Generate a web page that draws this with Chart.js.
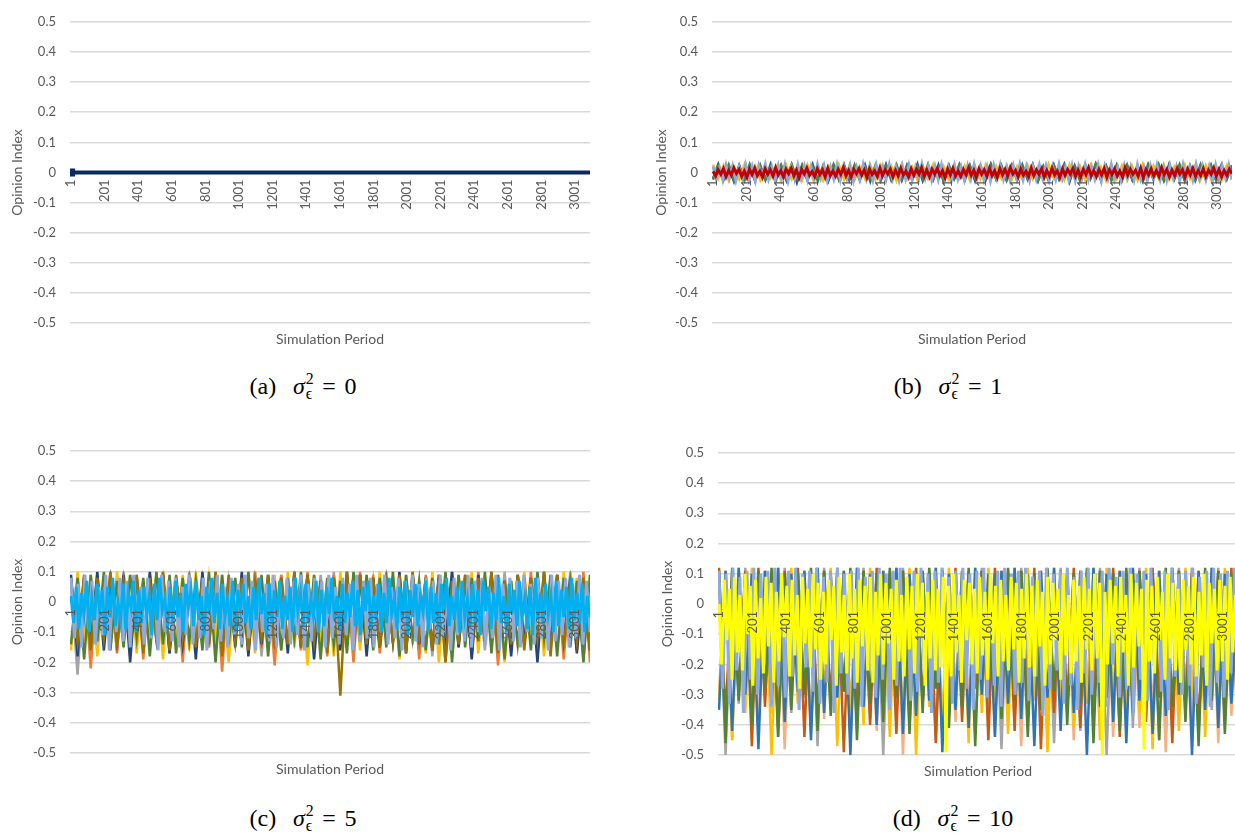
<!DOCTYPE html>
<html><head><meta charset="utf-8">
<script src="https://cdn.jsdelivr.net/npm/chart.js@4"></script>
<style>
html,body{margin:0;padding:0;background:#fff;width:1235px;height:835px;overflow:hidden;position:relative;}
.panel{position:absolute;}
.cap{position:absolute;width:300px;text-align:center;font-family:"Liberation Serif","DejaVu Serif",serif;font-size:24px;line-height:28px;color:#000;white-space:nowrap;}
.ss{display:inline-block;vertical-align:-0.32em;line-height:0.95;font-size:0.66em;text-align:left;margin-left:1px;}
.ss span{display:block;}
.gap{display:inline-block;width:0.7em;}
.eq{margin:0 0.36em;}
</style></head><body>
<div class="panel" style="left:0;top:0;width:600px;height:350px"><canvas id="ca"></canvas></div>
<div class="panel" style="left:644px;top:0;width:598px;height:350px"><canvas id="cb"></canvas></div>
<div class="panel" style="left:0;top:429px;width:600px;height:351px"><canvas id="cc"></canvas></div>
<div class="panel" style="left:650px;top:431px;width:598px;height:351px"><canvas id="cd"></canvas></div>
<div class="cap" style="left:153px;top:371px">(a)<span class="gap"></span><i>σ</i><span class="ss"><span>2</span><span>ϵ</span></span><span class="eq">=</span>0</div>
<div class="cap" style="left:798px;top:371px">(b)<span class="gap"></span><i>σ</i><span class="ss"><span>2</span><span>ϵ</span></span><span class="eq">=</span>1</div>
<div class="cap" style="left:153px;top:803px">(c)<span class="gap"></span><i>σ</i><span class="ss"><span>2</span><span>ϵ</span></span><span class="eq">=</span>5</div>
<div class="cap" style="left:803px;top:803px">(d)<span class="gap"></span><i>σ</i><span class="ss"><span>2</span><span>ϵ</span></span><span class="eq">=</span>10</div>
<script>
// ---- tick labels ----
const xTickLabels = [1,201,401,601,801,1001,1201,1401,1601,1801,2001,2201,2401,2601,2801,3001];
const yTickValues = [-0.5,-0.4,-0.3,-0.2,-0.1,0,0.1,0.2,0.3,0.4,0.5];
const yTitle = 'Opinion Index';
const xTitle = 'Simulation Period';
const lastPeriod = 3090;

// ---- (a) sigma^2 = 0 : every opinion stays at 0 ----
const aPeriods = [1, 3090];
const aOpinion = [0, 0];

// ---- (b) sigma^2 = 1 ----
const bDarkBlue = [-0.02,0.027,-0.025,0.021,-0.03,0.024,-0.022,0.026,-0.027,0.02,-0.024,0.028,-0.021,0.023,-0.026,0.025,-0.033,0.022,-0.023,0.027,
-0.025,0.019,-0.028,0.024,-0.02,0.026,-0.026,0.021,-0.024,0.025,-0.029,0.023,-0.021,0.027,-0.025,0.02,-0.026,0.024,-0.022,0.028,
-0.027,0.021,-0.023,0.025,-0.03,0.022,-0.02,0.026,-0.025,0.023,-0.028,0.02,-0.024,0.027,-0.021,0.024,-0.026,0.022,-0.023,0.025,
-0.022,0.026,-0.028,0.02,-0.025,0.024,-0.021,0.027,-0.031,0.022,-0.024,0.025,-0.02,0.028,-0.026,0.021,-0.023,0.024,-0.027,0.022,
-0.025,0.02,-0.029,0.026,-0.022,0.023,-0.026,0.027,-0.021,0.024,-0.028,0.021,-0.024,0.026,-0.023,0.02,-0.027,0.025,-0.022,0.023];
const bGold = [0.026,-0.02,0.024,-0.026,0.019,-0.023,0.027,-0.021,0.022,-0.025,0.025,-0.018,0.021,-0.027,0.024,-0.022,0.018,-0.024,0.026,-0.02,
0.023,-0.026,0.02,-0.019,0.027,-0.023,0.022,-0.025,0.019,-0.021,0.025,-0.024,0.024,-0.018,0.021,-0.027,0.026,-0.022,0.018,-0.025,
0.023,-0.02,0.027,-0.024,0.02,-0.023,0.025,-0.019,0.022,-0.026,0.019,-0.021,0.026,-0.025,0.021,-0.02,0.024,-0.023,0.02,-0.022,
0.025,-0.021,0.019,-0.026,0.028,-0.02,0.022,-0.024,0.026,-0.019,0.021,-0.025,0.024,-0.022,0.018,-0.027,0.025,-0.02,0.023,-0.024,
0.02,-0.026,0.027,-0.021,0.022,-0.019,0.025,-0.023,0.019,-0.025,0.026,-0.02,0.021,-0.024,0.024,-0.022,0.018,-0.026,0.023,-0.021];
const bGreen = [-0.024,0.022,-0.018,0.026,-0.025,0.019,-0.027,0.024,-0.02,0.025,-0.023,0.018,-0.026,0.023,-0.021,0.027,-0.019,0.024,-0.025,0.02,
-0.028,0.022,-0.018,0.026,-0.024,0.021,-0.022,0.025,-0.026,0.019,-0.02,0.024,-0.027,0.023,-0.019,0.026,-0.024,0.02,-0.025,0.022,
-0.021,0.027,-0.023,0.018,-0.026,0.024,-0.02,0.025,-0.027,0.021,-0.019,0.023,-0.025,0.026,-0.022,0.02,-0.024,0.024,-0.026,0.022,
-0.02,0.025,-0.027,0.019,-0.023,0.026,-0.021,0.022,-0.025,0.02,-0.028,0.024,-0.019,0.027,-0.022,0.021,-0.026,0.023,-0.02,0.025,
-0.023,0.02,-0.026,0.024,-0.021,0.027,-0.025,0.019,-0.022,0.026,-0.024,0.021,-0.027,0.023,-0.02,0.025,-0.026,0.022,-0.019,0.024];
const bLightBlue = [0.02,-0.022,0.015,-0.025,0.024,-0.018,0.021,-0.026,0.017,-0.02,0.025,-0.023,0.019,-0.027,0.022,-0.016,0.026,-0.021,0.018,-0.024,
0.023,-0.019,0.025,-0.028,0.016,-0.022,0.024,-0.02,0.021,-0.025,0.019,-0.023,0.026,-0.017,0.022,-0.026,0.018,-0.021,0.025,-0.024,
0.02,-0.019,0.023,-0.027,0.017,-0.022,0.026,-0.02,0.021,-0.025,0.024,-0.018,0.019,-0.023,0.025,-0.021,0.018,-0.026,0.022,-0.02,
0.024,-0.024,0.016,-0.022,0.027,-0.019,0.021,-0.025,0.02,-0.023,0.025,-0.018,0.019,-0.026,0.023,-0.021,0.018,-0.024,0.022,-0.02,
0.026,-0.017,0.021,-0.024,0.018,-0.027,0.023,-0.02,0.025,-0.022,0.017,-0.025,0.022,-0.019,0.026,-0.023,0.02,-0.026,0.019,-0.021,
0.024,-0.018,0.022,-0.025,0.019,-0.022,0.026,-0.02,0.017,-0.024,0.023,-0.026,0.02,-0.019,0.025,-0.023,0.018,-0.021,0.024,-0.027,
0.021,-0.02,0.026,-0.022,0.018,-0.025,0.023,-0.018,0.02,-0.024,0.025,-0.021,0.017,-0.026,0.022,-0.02,0.024,-0.023,0.019,-0.025,
0.023,-0.019,0.02,-0.026,0.025,-0.022,0.018,-0.024,0.026,-0.02,0.021,-0.023,0.019,-0.027,0.024,-0.021,0.022,-0.018,0.025,-0.024];
const bRed = [0.004,-0.011,0.009,-0.006,0.013,-0.014,0.007,-0.009,0.015,-0.003,0.01,-0.013,0.005,-0.016,0.011,-0.007,0.014,-0.01,0.004,-0.015,
0.012,-0.006,0.009,-0.012,0.016,-0.008,0.006,-0.014,0.011,-0.004,0.013,-0.011,0.008,-0.017,0.01,-0.005,0.015,-0.009,0.003,-0.013,
0.012,-0.007,0.009,-0.015,0.014,-0.01,0.005,-0.012,0.011,-0.006,0.016,-0.011,0.007,-0.014,0.01,-0.004,0.013,-0.009,0.008,-0.016,
0.012,-0.007,0.005,-0.013,0.015,-0.01,0.009,-0.005,0.011,-0.014,0.007,-0.011,0.014,-0.008,0.004,-0.015,0.012,-0.009,0.01,-0.006,
0.016,-0.012,0.008,-0.014,0.011,-0.005,0.013,-0.01,0.006,-0.017,0.011,-0.008,0.014,-0.011,0.005,-0.013,0.01,-0.007,0.015,-0.009,
0.008,-0.015,0.012,-0.006,0.009,-0.012,0.014,-0.01,0.006,-0.016,0.013,-0.008,0.01,-0.011,0.016,-0.005,0.007,-0.014,0.011,-0.009,
0.004,-0.013,0.015,-0.01,0.009,-0.006,0.012,-0.015,0.007,-0.011,0.014,-0.008,0.005,-0.016,0.012,-0.009,0.01,-0.005,0.013,-0.012,
0.008,-0.014,0.011,-0.007,0.016,-0.01,0.006,-0.013,0.01,-0.008,0.013,-0.015,0.009,-0.006,0.012,-0.011,0.005,-0.014,0.015,-0.009,
0.011,-0.006,0.007,-0.012,0.014,-0.016,0.009,-0.008,0.012,-0.011,0.006,-0.013,0.016,-0.007,0.01,-0.014,0.008,-0.01,0.013,-0.005,
0.009,-0.015,0.011,-0.008,0.014,-0.012,0.006,-0.01,0.012,-0.013,0.008,-0.006,0.015,-0.011,0.01,-0.014,0.007,-0.009,0.011,-0.004];

// ---- (c) sigma^2 = 5 ----
const cGrey = [0.05,-0.24,0.08,-0.14,0.09,-0.12,0.07,-0.16,0.1,-0.13,0.08,-0.15,0.09,-0.12,0.07,-0.17,0.08,-0.14,0.1,-0.13,
0.09,-0.15,0.08,-0.16,0.07,-0.12,0.09,-0.14,0.1,-0.18,0.08,-0.13,0.09,-0.15,0.07,-0.12,0.08,-0.16,0.09,-0.14,
0.1,-0.13,0.08,-0.17,0.09,-0.12,0.07,-0.15,0.1,-0.14,0.08,-0.16,0.09,-0.13,0.07,-0.18,0.08,-0.12,0.1,-0.15,
0.09,-0.14,0.07,-0.16,0.08,-0.13,0.1,-0.15,0.09,-0.12,0.08,-0.17,0.07,-0.14,0.09,-0.13,0.1,-0.16,0.08,-0.15];
const cOrange = [0.08,-0.15,0.09,-0.22,0.07,-0.13,0.1,-0.17,0.08,-0.14,0.09,-0.19,0.07,-0.12,0.1,-0.16,0.08,-0.2,0.09,-0.14,
0.07,-0.15,0.1,-0.23,0.08,-0.13,0.09,-0.17,0.1,-0.15,0.07,-0.21,0.09,-0.14,0.08,-0.16,0.1,-0.13,0.07,-0.18,
0.09,-0.15,0.08,-0.2,0.1,-0.14,0.09,-0.17,0.07,-0.13,0.08,-0.16,0.1,-0.19,0.09,-0.15,0.08,-0.2,0.07,-0.14,
0.09,-0.18,0.1,-0.13,0.08,-0.21,0.07,-0.15,0.09,-0.14,0.1,-0.17,0.08,-0.13,0.09,-0.19,0.07,-0.16,0.1,-0.2];
const cGold = [-0.16,0.1,-0.13,0.09,-0.18,0.08,-0.15,0.1,-0.12,0.09,-0.17,0.07,-0.14,0.1,-0.19,0.08,-0.13,0.09,-0.16,0.1,
-0.15,0.08,-0.12,0.09,-0.2,0.07,-0.14,0.1,-0.17,0.08,-0.13,0.09,-0.16,0.1,-0.15,0.08,-0.21,0.09,-0.14,0.07,
-0.18,0.1,-0.13,0.08,-0.16,0.09,-0.15,0.1,-0.12,0.08,-0.19,0.09,-0.14,0.07,-0.17,0.1,-0.2,0.08,-0.15,0.09,
-0.13,0.1,-0.17,0.08,-0.14,0.09,-0.2,0.07,-0.15,0.1,-0.12,0.08,-0.18,0.09,-0.16,0.1,-0.13,0.08,-0.19,0.09];
const cGreen = [-0.14,0.08,-0.19,0.09,-0.13,0.1,-0.16,0.07,-0.15,0.09,-0.12,0.08,-0.18,0.1,-0.14,0.09,-0.17,0.08,-0.13,0.07,
-0.16,0.1,-0.2,0.09,-0.14,0.08,-0.15,0.1,-0.13,0.09,-0.18,0.07,-0.16,0.08,-0.12,0.1,-0.15,0.09,-0.19,0.08,
-0.14,0.07,-0.17,0.1,-0.13,0.09,-0.16,0.08,-0.15,0.1,-0.18,0.09,-0.12,0.07,-0.16,0.08,-0.14,0.1,-0.2,0.09,
-0.15,0.08,-0.13,0.1,-0.17,0.09,-0.19,0.07,-0.14,0.08,-0.16,0.1,-0.12,0.09,-0.18,0.08,-0.15,0.07,-0.2,0.09];
const cDarkBlue = [0.09,-0.18,0.08,-0.14,0.1,-0.16,0.07,-0.13,0.09,-0.2,0.08,-0.15,0.1,-0.12,0.09,-0.17,0.08,-0.14,0.07,-0.19,
0.1,-0.13,0.09,-0.16,0.08,-0.15,0.1,-0.18,0.07,-0.14,0.09,-0.12,0.08,-0.17,0.1,-0.15,0.09,-0.19,0.07,-0.13,
0.08,-0.16,0.1,-0.14,0.09,-0.18,0.08,-0.15,0.07,-0.13,0.1,-0.17,0.09,-0.14,0.08,-0.16,0.09,-0.12,0.1,-0.15,
0.08,-0.19,0.09,-0.13,0.1,-0.16,0.07,-0.18,0.09,-0.14,0.08,-0.2,0.1,-0.15,0.09,-0.13,0.08,-0.17,0.07,-0.16];
const cDarkGold = [0.07,-0.13,0.09,-0.16,0.08,-0.12,0.1,-0.15,0.07,-0.14,0.09,-0.17,0.08,-0.13,0.1,-0.16,0.09,-0.12,0.07,-0.15,
0.08,-0.14,0.1,-0.18,0.09,-0.13,0.08,-0.16,0.07,-0.12,0.09,-0.15,0.08,-0.14,0.1,-0.15,0.09,-0.13,0.07,-0.17,
0.08,-0.31,0.1,-0.16,0.09,-0.14,0.08,-0.15,0.07,-0.13,0.09,-0.17,0.1,-0.12,0.08,-0.16,0.09,-0.2,0.07,-0.14,
0.09,-0.15,0.08,-0.13,0.1,-0.17,0.07,-0.14,0.09,-0.16,0.08,-0.12,0.1,-0.18,0.09,-0.15,0.07,-0.13,0.08,-0.16];
const cLightBlue = [0.08,-0.12,0.06,-0.15,0.09,-0.09,0.07,-0.14,0.05,-0.11,0.09,-0.16,0.06,-0.1,0.08,-0.13,0.07,-0.15,0.09,-0.08,
0.05,-0.14,0.08,-0.12,0.06,-0.16,0.09,-0.1,0.07,-0.13,0.08,-0.15,0.05,-0.11,0.09,-0.14,0.06,-0.12,0.08,-0.16,
0.07,-0.09,0.09,-0.13,0.05,-0.15,0.08,-0.11,0.06,-0.14,0.09,-0.12,0.07,-0.16,0.08,-0.1,0.06,-0.13,0.09,-0.15,
0.05,-0.12,0.08,-0.14,0.07,-0.11,0.09,-0.16,0.06,-0.13,0.08,-0.1,0.07,-0.15,0.09,-0.12,0.05,-0.14,0.08,-0.11,
0.06,-0.16,0.09,-0.13,0.07,-0.12,0.08,-0.15,0.06,-0.1,0.09,-0.14,0.05,-0.12,0.08,-0.16,0.07,-0.11,0.09,-0.13,
0.06,-0.15,0.08,-0.09,0.07,-0.14,0.09,-0.12,0.05,-0.16,0.08,-0.11,0.06,-0.13,0.09,-0.15,0.07,-0.1,0.08,-0.14,
0.05,-0.12,0.09,-0.16,0.06,-0.11,0.08,-0.13,0.07,-0.15,0.09,-0.1,0.06,-0.14,0.08,-0.12,0.05,-0.16,0.09,-0.13,
0.07,-0.11,0.08,-0.15,0.06,-0.12,0.09,-0.14,0.07,-0.1];
const cCyan = [0.02,-0.07,0.05,-0.09,0.03,-0.04,0.07,-0.1,0.01,-0.06,0.06,-0.03,0.04,-0.11,0.05,-0.05,0.08,-0.08,0.0,-0.06,
0.06,-0.09,0.03,-0.02,0.07,-0.1,0.04,-0.07,0.05,-0.04,0.02,-0.11,0.06,-0.06,0.08,-0.03,0.01,-0.09,0.05,-0.07,
0.07,-0.05,0.03,-0.1,0.06,-0.02,0.04,-0.08,0.07,-0.06,0.02,-0.11,0.05,-0.04,0.08,-0.07,0.03,-0.09,0.06,-0.05,
0.01,-0.08,0.07,-0.1,0.04,-0.03,0.06,-0.07,0.02,-0.09,0.05,-0.06,0.08,-0.04,0.03,-0.11,0.06,-0.07,0.04,-0.05,
0.07,-0.09,0.02,-0.06,0.05,-0.1,0.08,-0.03,0.03,-0.08,0.06,-0.07,0.01,-0.05,0.07,-0.1,0.04,-0.08,0.05,-0.04,
0.08,-0.06,0.02,-0.09,0.06,-0.07,0.03,-0.05,0.07,-0.08,0.04,-0.11,0.05,-0.03,0.07,-0.09,0.02,-0.06,0.06,-0.1,
0.03,-0.07,0.08,-0.04,0.01,-0.09,0.05,-0.06,0.07,-0.11,0.04,-0.05,0.06,-0.08,0.02,-0.03,0.07,-0.1,0.05,-0.07,
0.03,-0.09,0.06,-0.04,0.08,-0.08,0.02,-0.06,0.05,-0.1,0.07,-0.05,0.01,-0.08,0.06,-0.07,0.04,-0.11,0.07,-0.03,
0.05,-0.09,0.03,-0.06,0.08,-0.07,0.02,-0.1,0.06,-0.04,0.04,-0.08,0.07,-0.05,0.01,-0.09,0.05,-0.11,0.08,-0.06,
0.03,-0.07,0.06,-0.04,0.02,-0.1,0.07,-0.08,0.04,-0.05,0.05,-0.09,0.08,-0.06,0.03,-0.07,0.06,-0.1,0.02,-0.05];

// ---- (d) sigma^2 = 10 ----
const dLightOrange = [-0.3,0.11,-0.45,0.12,-0.34,0.1,-0.41,0.11,-0.36,0.12,-0.48,0.1,-0.32,0.11,-0.43,0.12,-0.38,0.1,-0.3,0.11,
-0.46,0.12,-0.35,0.1,-0.42,0.11,-0.33,0.12,-0.5,0.1,-0.37,0.11,-0.31,0.12,-0.44,0.1,-0.39,0.11,-0.34,0.12,
-0.29,0.1,-0.43,0.11,-0.36,0.12,-0.47,0.1,-0.32,0.11,-0.4,0.12,-0.35,0.1,-0.45,0.11,-0.3,0.12,-0.38,0.1,
-0.44,0.11,-0.33,0.12,-0.41,0.1,-0.36,0.11,-0.49,0.12,-0.31,0.1,-0.39,0.11,-0.34,0.12,-0.46,0.1,-0.37,0.11];
const dGrey = [0.1,-0.5,0.11,-0.33,0.12,-0.4,0.1,-0.3,0.11,-0.44,0.12,-0.36,0.1,-0.31,0.11,-0.47,0.12,-0.35,0.1,-0.29,
0.11,-0.42,0.12,-0.38,0.1,-0.5,0.11,-0.34,0.12,-0.4,0.1,-0.32,0.11,-0.45,0.12,-0.37,0.1,-0.3,0.11,-0.43,
0.12,-0.35,0.1,-0.48,0.11,-0.33,0.12,-0.39,0.1,-0.31,0.11,-0.46,0.12,-0.36,0.1,-0.42,0.11,-0.3,0.12,-0.5,
0.1,-0.34,0.11,-0.41,0.12,-0.32,0.1,-0.45,0.11,-0.37,0.12,-0.29,0.1,-0.43,0.11,-0.35,0.12,-0.4,0.1,-0.33];
const dGold = [-0.32,0.11,-0.45,0.1,-0.36,0.12,-0.29,0.11,-0.5,0.1,-0.38,0.12,-0.33,0.11,-0.42,0.1,-0.3,0.12,-0.47,0.11,
-0.35,0.1,-0.4,0.12,-0.31,0.11,-0.44,0.1,-0.37,0.12,-0.5,0.11,-0.34,0.1,-0.39,0.12,-0.29,0.11,-0.46,0.1,
-0.36,0.12,-0.32,0.11,-0.43,0.1,-0.38,0.12,-0.3,0.11,-0.49,0.1,-0.35,0.12,-0.41,0.11,-0.33,0.1,-0.45,0.12,
-0.31,0.11,-0.4,0.1,-0.36,0.12,-0.48,0.11,-0.34,0.1,-0.42,0.12,-0.3,0.11,-0.44,0.1,-0.37,0.12,-0.33,0.11];
const dBrown = [0.12,-0.38,0.1,-0.3,0.11,-0.47,0.12,-0.34,0.1,-0.41,0.11,-0.29,0.12,-0.44,0.1,-0.36,0.11,-0.32,0.12,-0.49,
0.1,-0.35,0.11,-0.4,0.12,-0.3,0.1,-0.43,0.11,-0.37,0.12,-0.33,0.1,-0.46,0.11,-0.31,0.12,-0.39,0.1,-0.28,
0.11,-0.45,0.12,-0.35,0.1,-0.42,0.11,-0.3,0.12,-0.48,0.1,-0.36,0.11,-0.33,0.12,-0.41,0.1,-0.38,0.11,-0.3,
0.12,-0.44,0.1,-0.34,0.11,-0.39,0.12,-0.31,0.1,-0.46,0.11,-0.35,0.12,-0.42,0.1,-0.29,0.11,-0.37,0.12,-0.45];
const dBlue = [-0.35,0.11,-0.42,0.12,-0.3,0.1,-0.48,0.11,-0.33,0.12,-0.39,0.1,-0.29,0.11,-0.45,0.12,-0.36,0.1,-0.31,0.11,
-0.5,0.12,-0.34,0.1,-0.4,0.11,-0.28,0.12,-0.43,0.1,-0.37,0.11,-0.32,0.12,-0.49,0.1,-0.35,0.11,-0.41,0.12,
-0.3,0.1,-0.44,0.11,-0.33,0.12,-0.38,0.1,-0.47,0.11,-0.31,0.12,-0.42,0.1,-0.36,0.11,-0.5,0.12,-0.34,0.1,
-0.39,0.11,-0.46,0.12,-0.32,0.1,-0.43,0.11,-0.37,0.12,-0.3,0.1,-0.5,0.11,-0.35,0.12,-0.41,0.1,-0.33,0.11];
const dGreen = [0.11,-0.46,0.12,-0.32,0.1,-0.4,0.11,-0.28,0.12,-0.44,0.1,-0.35,0.11,-0.3,0.12,-0.42,0.11,-0.37,0.1,-0.29,
0.12,-0.45,0.11,-0.33,0.1,-0.39,0.12,-0.31,0.11,-0.43,0.1,-0.36,0.12,-0.28,0.11,-0.41,0.1,-0.34,0.12,-0.47,
0.11,-0.3,0.1,-0.38,0.12,-0.32,0.11,-0.44,0.1,-0.35,0.12,-0.29,0.11,-0.4,0.1,-0.33,0.12,-0.46,0.11,-0.31,
0.1,-0.42,0.12,-0.36,0.11,-0.3,0.1,-0.45,0.12,-0.34,0.11,-0.39,0.1,-0.47,0.12,-0.32,0.11,-0.43,0.1,-0.37];
const dLightBlue = [0.11,-0.28,0.1,-0.33,0.12,-0.22,0.09,-0.36,0.11,-0.25,0.12,-0.3,0.1,-0.2,0.11,-0.34,0.12,-0.27,0.09,-0.31,
0.11,-0.24,0.12,-0.35,0.1,-0.21,0.11,-0.29,0.12,-0.33,0.09,-0.26,0.11,-0.36,0.12,-0.23,0.1,-0.3,0.11,-0.28,
0.12,-0.34,0.09,-0.22,0.11,-0.31,0.12,-0.25,0.1,-0.35,0.11,-0.27,0.12,-0.2,0.09,-0.32,0.11,-0.29,0.12,-0.24,
0.1,-0.36,0.11,-0.26,0.12,-0.3,0.09,-0.33,0.11,-0.22,0.12,-0.28,0.1,-0.35,0.11,-0.25,0.12,-0.31,0.09,-0.27,
0.11,-0.34,0.12,-0.21,0.1,-0.3,0.11,-0.26,0.12,-0.32,0.09,-0.24,0.11,-0.37,0.12,-0.28,0.1,-0.22,0.11,-0.33,
0.12,-0.27,0.09,-0.35,0.11,-0.23,0.12,-0.3,0.1,-0.26,0.11,-0.34,0.12,-0.2,0.09,-0.31,0.11,-0.28,0.12,-0.36,
0.1,-0.25,0.11,-0.32,0.12,-0.22,0.09,-0.29,0.11,-0.35,0.12,-0.24,0.1,-0.3,0.11,-0.27,0.12,-0.33,0.09,-0.21,
0.11,-0.34,0.12,-0.26,0.1,-0.31,0.11,-0.23,0.12,-0.29];
const dYellow = [0.0,-0.2,0.08,-0.12,0.05,-0.25,0.09,-0.16,0.03,-0.22,0.1,-0.1,0.06,-0.27,0.08,-0.18,0.02,-0.23,0.09,-0.14,
0.07,-0.26,0.04,-0.19,0.1,-0.11,0.06,-0.24,0.08,-0.17,0.03,-0.28,0.09,-0.13,0.05,-0.21,0.1,-0.15,0.07,-0.25,
0.04,-0.2,0.08,-0.12,0.06,-0.27,0.09,-0.16,0.03,-0.23,0.1,-0.18,0.05,-0.26,0.08,-0.14,0.06,-0.22,0.09,-0.26,
0.04,-0.17,0.1,-0.2,0.07,-0.13,0.05,-0.25,0.08,-0.19,0.03,-0.24,0.09,-0.15,0.06,-0.23,0.1,-0.11,0.07,-0.27,
0.04,-0.18,0.08,-0.22,0.05,-0.21,0.09,-0.49,0.06,-0.24,0.1,-0.16,0.03,-0.26,0.08,-0.12,0.07,-0.2,0.05,-0.23,
0.09,-0.17,0.04,-0.25,0.1,-0.13,0.06,-0.24,0.08,-0.19,0.03,-0.22,0.09,-0.15,0.07,-0.26,0.05,-0.18,0.1,-0.21,
0.06,-0.24,0.08,-0.14,0.04,-0.27,0.09,-0.2,0.07,-0.12,0.05,-0.25,0.1,-0.17,0.03,-0.23,0.08,-0.19,0.06,-0.26,
0.09,-0.15,0.05,-0.22,0.1,-0.18,0.07,-0.5,0.04,-0.2,0.08,-0.13,0.06,-0.24,0.09,-0.16,0.03,-0.27,0.1,-0.21,
0.07,-0.14,0.05,-0.48,0.08,-0.19,0.06,-0.23,0.09,-0.12,0.04,-0.25,0.1,-0.18,0.07,-0.22,0.05,-0.26,0.08,-0.15,
0.06,-0.2,0.09,-0.24,0.04,-0.17,0.1,-0.27,0.07,-0.13,0.05,-0.22,0.08,-0.19,0.06,-0.25,0.09,-0.16,0.03,-0.05];

// ---- helpers ----
const FONT = 'Lato, "Open Sans", sans-serif';
const TXT = '#595959';
const GRID = '#D9D9D9';

// the samples of a series are spread evenly over the simulation periods 1..lastPeriod
function samplePeriods(n) {
  const out = [];
  for (let i = 0; i < n; i++) out.push(1 + i * (lastPeriod - 1) / (n - 1));
  return out;
}
function series(values, color, width, periods) {
  const px = periods || samplePeriods(values.length);
  return {
    data: values.map((v, i) => ({x: px[i], y: v})),
    borderColor: color, backgroundColor: color,
    borderWidth: width, pointRadius: 0, tension: 0, fill: false,
    borderJoinStyle: 'miter', borderCapStyle: 'butt'
  };
}

// datasets are listed bottom-to-top; Chart.js paints dataset 0 last, so reverse
function makeChart(id, datasets, yWidth) {
  return new Chart(document.getElementById(id), {
    type: 'line',
    data: {datasets: datasets.slice().reverse()},
    options: {
      responsive: true, maintainAspectRatio: false, animation: false,
      devicePixelRatio: 1,
      layout: {padding: {top: 15, right: 10, left: 0, bottom: 0}},
      plugins: {
        legend: {display: false}, tooltip: {enabled: false},
        title: {display: true, text: xTitle, position: 'bottom', fullSize: false, align: 'center',
          color: TXT, font: {family: FONT, size: 14, weight: 'normal'}, padding: {top: 8, bottom: 2}}
      },
      scales: {
        x: {
          type: 'linear', position: {y: 0}, min: -5, max: lastPeriod,
          afterBuildTicks: s => { s.ticks = xTickLabels.map(v => ({value: v})); },
          grid: {display: false, drawTicks: false, tickLength: 0},
          border: {display: false},
          ticks: {autoSkip: false, minRotation: 90, maxRotation: 90, padding: 7, z: 1,
            color: TXT, font: {family: FONT, size: 13}, callback: v => String(v)}
        },
        y: {
          min: -0.5, max: 0.5,
          afterBuildTicks: s => { s.ticks = yTickValues.map(v => ({value: v})); },
          afterFit: s => { s.width = yWidth; },
          grid: {color: GRID, lineWidth: 1.5, drawTicks: false},
          border: {display: false},
          ticks: {padding: 14, color: TXT, font: {family: FONT, size: 13},
            callback: v => String(Math.round(v * 10) / 10)},
          title: {display: true, text: yTitle, color: TXT, font: {family: FONT, size: 14},
            padding: {top: 9, bottom: 0}}
        }
      }
    }
  });
}

// (a)
const aSet = series(aOpinion, '#0B2A60', 4, aPeriods);
aSet.pointStyle = 'rect';
aSet.pointRadius = ctx => ctx.dataIndex === 0 ? 3 : 0;
makeChart('ca', [aSet], 70);

// (b)
makeChart('cb', [
  series(bDarkBlue, '#2F5597', 2.5),
  series(bGold, '#FFC000', 2.5),
  series(bGreen, '#548235', 2.5),
  series(bLightBlue, '#8FAADC', 3),
  series(bRed, '#C00000', 3)
], 68);

// (c)
makeChart('cc', [
  series(cGrey, '#A5A5A5', 2.5),
  series(cOrange, '#ED7D31', 2.5),
  series(cGold, '#FFC000', 2.5),
  series(cGreen, '#548235', 2.5),
  series(cDarkBlue, '#264478', 2.5),
  series(cDarkGold, '#997300', 2.5),
  series(cLightBlue, '#8FAADC', 3),
  series(cCyan, '#00B0F0', 3)
], 70);

// (d)
makeChart('cd', [
  series(dLightOrange, '#F4B183', 2.5),
  series(dGrey, '#A5A5A5', 2.5),
  series(dGold, '#FFC000', 2.5),
  series(dBrown, '#C55A11', 2.5),
  series(dBlue, '#2E75B6', 2.5),
  series(dGreen, '#548235', 2.5),
  series(dLightBlue, '#8FAADC', 3),
  series(dYellow, '#FFFF00', 3)
], 68);
</script>
</body></html>
